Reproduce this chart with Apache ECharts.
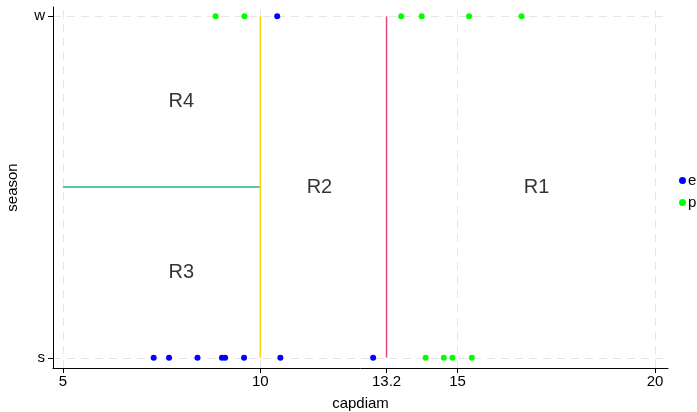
<!DOCTYPE html>
<html>
<head>
<meta charset="utf-8">
<script src="https://cdn.jsdelivr.net/npm/echarts@6/dist/echarts.min.js"></script>
<style>
  html, body { margin: 0; padding: 0; background: #fff; }
  #main { width: 697px; height: 412px; }
</style>
</head>
<body>
<div id="main"></div>
<script>
// 数据: capdiam 与 season (s = 0, w = 1)
var seasonLabels = ['s', 'w'];
var xTicks = [5, 10, 13.2, 15, 20];
var gridX = [5, 10, 15, 20];

var eX = [7.30, 7.69, 8.41, 9.03, 9.11, 9.59, 10.51, 12.86, 10.43];
var eY = [0, 0, 0, 0, 0, 0, 0, 0, 1];
var pX = [14.19, 14.65, 14.87, 15.36, 8.87, 9.60, 13.57, 14.09, 15.29, 16.62];
var pY = [0, 0, 0, 0, 1, 1, 1, 1, 1, 1];

// 分割线
var split1 = [[5, 0.5], [10, 0.5]];
var split2 = [[10, 0], [10, 1]];
var split3 = [[13.2, 0], [13.2, 1]];

// 区域标签
var regionNames = ['R1', 'R2', 'R3', 'R4'];
var regionX = [17.0, 11.5, 8.0, 8.0];
var regionY = [0.5, 0.5, 0.25, 0.75];

function zip(xs, ys) {
  return xs.map(function (x, i) { return [x, ys[i]]; });
}

var chart = echarts.init(document.getElementById('main'));

var gridLines = gridX.map(function (v) { return { xAxis: v }; })
  .concat([{ yAxis: 0 }, { yAxis: 1 }]);

var option = {
  animation: false,
  textStyle: { fontFamily: 'Liberation Sans, Arial, sans-serif' },
  grid: { left: 53, right: 29, top: 7, bottom: 44, outerBoundsMode: 'none', containLabel: false },
  legend: {
    data: ['e', 'p'],
    orient: 'vertical',
    left: 674,
    top: 168,
    itemWidth: 7,
    itemHeight: 7,
    itemGap: 7,
    icon: 'circle',
    textStyle: { color: '#000', fontSize: 15, padding: [0, 0, 0, -3] }
  },
  xAxis: {
    type: 'value',
    min: 4.75,
    max: 20.33,
    name: 'capdiam',
    nameLocation: 'middle',
    nameGap: 28,
    nameTextStyle: { color: '#000', fontSize: 15 },
    axisLine: { onZero: false, lineStyle: { color: '#000' } },
    axisTick: { customValues: xTicks, length: 5, lineStyle: { color: '#000' } },
    axisLabel: { customValues: xTicks, color: '#000', fontSize: 15, margin: 6 },
    splitLine: { show: false }
  },
  yAxis: {
    type: 'value',
    min: -0.03,
    max: 1.027,
    name: 'season',
    nameLocation: 'middle',
    nameGap: 33,
    nameTextStyle: { color: '#000', fontSize: 15 },
    axisLine: { show: true, onZero: false, lineStyle: { color: '#000' } },
    axisTick: { customValues: [0, 1], length: 5, lineStyle: { color: '#000' } },
    axisLabel: {
      customValues: [0, 1],
      color: '#000',
      fontSize: 15,
      margin: 8,
      formatter: function (v) { return seasonLabels[Math.round(v)]; }
    },
    splitLine: { show: false }
  },
  series: [
    {
      name: 'grid',
      type: 'line',
      data: [],
      silent: true,
      z: 0,
      markLine: {
        silent: true,
        z: 0,
        symbol: 'none',
        label: { show: false },
        lineStyle: { color: '#e6e6e6', type: [8, 6], width: 1 },
        data: gridLines
      }
    },
    {
      name: 'split1', type: 'line', data: split1, symbol: 'none', z: 3,
      lineStyle: { color: '#26b28c', width: 1.5 }, silent: true
    },
    {
      name: 'split2', type: 'line', data: split2, symbol: 'none', z: 3,
      lineStyle: { color: '#ffd700', width: 1.5 }, silent: true
    },
    {
      name: 'split3', type: 'line', data: split3, symbol: 'none', z: 3,
      lineStyle: { color: '#e8488a', width: 1.5 }, silent: true
    },
    {
      name: 'regions',
      type: 'scatter',
      symbolSize: 0,
      silent: true,
      data: regionNames.map(function (n, i) {
        return { name: n, value: [regionX[i], regionY[i]] };
      }),
      label: {
        show: true,
        position: 'inside',
        formatter: '{b}',
        color: '#000',
        fontSize: 20
      }
    },
    {
      name: 'e',
      type: 'scatter',
      symbolSize: 6,
      itemStyle: { color: '#0000ff', opacity: 1 },
      data: zip(eX, eY),
      z: 5
    },
    {
      name: 'p',
      type: 'scatter',
      symbolSize: 6,
      itemStyle: { color: '#00ff00', opacity: 1 },
      data: zip(pX, pY),
      z: 5
    }
  ]
};

chart.setOption(option);
</script>
</body>
</html>
